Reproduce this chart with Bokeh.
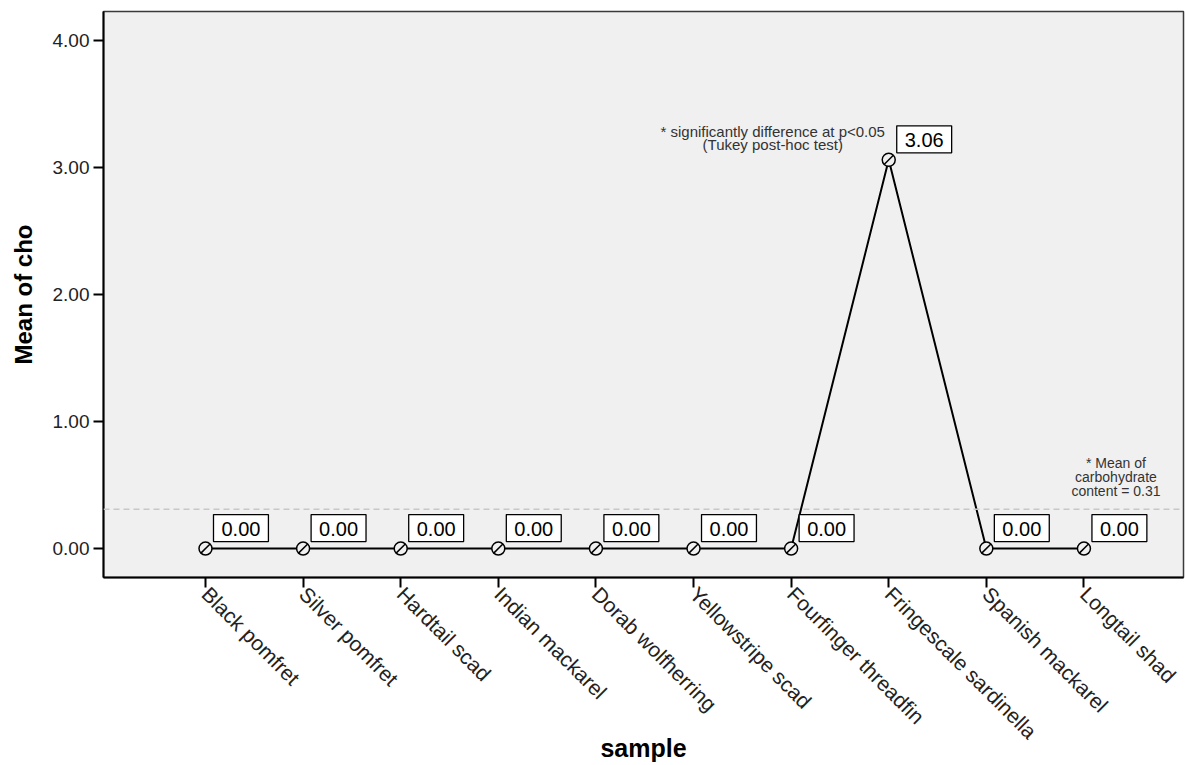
import math
from bokeh.plotting import figure
from bokeh.models import (ColumnDataSource, Label, Span, FixedTicker, Range1d)
from bokeh.embed import file_html
from bokeh.resources import INLINE

# ---- data ----
samples = ["Black pomfret", "Silver pomfret", "Hardtail scad", "Indian mackarel",
           "Dorab wolfherring", "Yellowstripe scad", "Fourfinger threadfin",
           "Fringescale sardinella", "Spanish mackarel", "Longtail shad"]
means = [0.00, 0.00, 0.00, 0.00, 0.00, 0.00, 0.00, 3.06, 0.00, 0.00]
overall_mean = 0.31
y_ticks = [0.0, 1.0, 2.0, 3.0, 4.0]
y_tick_labels = ["0.00", "1.00", "2.00", "3.00", "4.00"]
sig_note = ["* significantly difference at p<0.05", "(Tukey post-hoc test)"]
mean_note = ["* Mean of", "carbohydrate", "content = 0.31"]

FONT = "Liberation Sans"
xs = list(range(len(samples)))
peak = max(range(len(means)), key=lambda i: means[i])

src = ColumnDataSource(dict(x=xs, y=means))

p = figure(width=1185, height=765, output_backend="svg", toolbar_location=None,
           x_range=Range1d(-1.045, len(samples) + 0.02),
           y_range=Range1d(-0.228, 4.228),
           min_border_left=103, min_border_right=2, min_border_top=11, min_border_bottom=188)
p.background_fill_color = "#f0f0f0"
p.border_fill_color = "white"
p.outline_line_color = "#3a3a3a"
p.outline_line_width = 1.5
p.xgrid.visible = False
p.ygrid.visible = False

# axes
for ax in (p.xaxis[0], p.yaxis[0]):
    ax.axis_line_color = "black"
    ax.axis_line_width = 2
    ax.major_tick_line_color = "black"
    ax.major_tick_line_width = 2
    ax.major_tick_out = 10
    ax.major_tick_in = 0
    ax.minor_tick_line_color = None
    ax.major_label_text_font = FONT
    ax.major_label_text_color = "#222222"
    ax.axis_label_text_font = FONT
    ax.axis_label_text_font_style = "bold"
    ax.axis_label_text_color = "black"

p.xaxis.ticker = FixedTicker(ticks=xs)
p.xaxis.major_label_overrides = {i: s for i, s in zip(xs, samples)}
p.xaxis.major_label_orientation = -math.pi / 4
p.xaxis.major_label_text_font_size = "21px"
p.xaxis.major_label_standoff = 3
p.xaxis.axis_label = "sample"
p.xaxis.axis_label_text_font_size = "25px"
p.xaxis.axis_label_standoff = -20

p.yaxis.ticker = FixedTicker(ticks=y_ticks)
p.yaxis.major_label_overrides = {t: s for t, s in zip(y_ticks, y_tick_labels)}
p.yaxis.major_label_text_font_size = "19px"
p.yaxis.major_label_standoff = 4
p.yaxis.axis_label = "Mean of cho"
p.yaxis.axis_label_text_font_size = "24px"
p.yaxis.axis_label_standoff = 13

# mean reference line
p.add_layout(Span(location=overall_mean, dimension="width", line_color="#c8c8c8",
                  line_dash="6 4", line_width=1.5))

# line and markers
p.line("x", "y", source=src, line_color="black", line_width=2)
p.scatter("x", "y", source=src, marker="circle", size=13, line_color="black",
          line_width=1.5, fill_color="#f0f0f0")
p.scatter("x", "y", source=src, marker="dash", size=13, angle=math.pi / 4,
          line_color="black", line_width=1.5)

# value boxes
for xv, yv in zip(xs, means):
    p.add_layout(Label(x=xv, y=yv, x_offset=8, y_offset=7, text=f"{yv:.2f}",
                       text_align="left", text_baseline="bottom",
                       text_font=FONT, text_font_size="20px", text_color="black",
                       background_fill_color="white", border_line_color="black",
                       border_line_width=1.3,
                       padding=dict(left=8, right=8, top=7, bottom=6)))

# notes
for t, dy in zip(sig_note, [28, 15]):
    p.add_layout(Label(x=peak, y=means[peak], x_offset=-116, y_offset=dy, text=t,
                       text_align="center", text_baseline="middle",
                       text_font=FONT, text_font_size="15px", text_color="#333333"))
for t, dy in zip(mean_note, [46, 32, 18]):
    p.add_layout(Label(x=len(samples) - 1, y=overall_mean, x_offset=32, y_offset=dy, text=t,
                       text_align="center", text_baseline="middle",
                       text_font=FONT, text_font_size="14px", text_color="#333333"))

open("out.html", "w").write(file_html(p, INLINE))
